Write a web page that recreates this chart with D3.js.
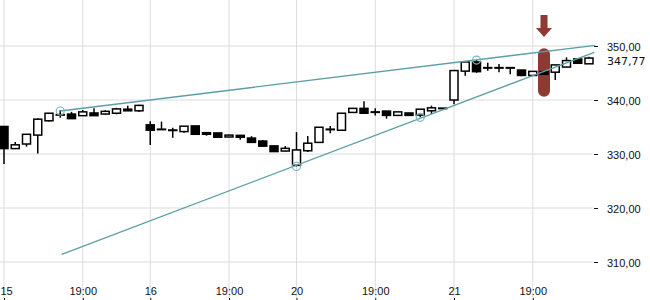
<!DOCTYPE html>
<html>
<head>
<meta charset="utf-8">
<script src="https://cdn.jsdelivr.net/npm/d3@7"></script>
<style>
  body { margin: 0; background: #fff; }
  svg { display: block; font-family: "DejaVu Sans", sans-serif; }
</style>
</head>
<body>
<svg id="chart" width="650" height="300"></svg>
<script>
// 30 min candles, 15th .. 21st
var opens  = [335.1, 331.0, 331.85, 333.5, 336.15, 337.3, 337.4, 337.1, 337.6, 337.4, 337.55, 338.3, 338.0,
              335.4, 334.6, 334.45, 334.15, 335.2, 333.95, 333.9, 333.15, 333.45, 332.95, 332.4, 331.5, 330.55,
              327.9, 330.6, 332.15, 334.6, 334.4, 337.7, 338.45, 337.8, 337.95, 337.15, 337.6, 337.2, 338.0, 338.5,
              340.0, 345.35, 347.05, 346.0, 346.0, 346.0, 345.55, 344.55, 345.25, 345.15, 346.1, 347.6, 346.7];
var highs  = [335.1, 332.2, 333.7, 336.6, 337.6, 338.1, 337.8, 338.15, 338.45, 338.1, 338.55, 338.95, 339.1,
              336.05, 336.0, 334.85, 335.15, 335.2, 334.05, 333.9, 333.55, 333.5, 333.3, 332.6, 331.5, 331.5,
              334.05, 333.35, 334.95, 335.2, 337.55, 338.45, 339.75, 338.45, 337.95, 337.8, 337.6, 338.3, 338.95, 338.5,
              345.45, 347.05, 347.4, 346.9, 346.65, 346.0, 345.55, 345.3, 345.25, 346.5, 347.9, 347.6, 348.0];
var lows   = [328.15, 331.0, 331.35, 330.1, 336.0, 336.7, 336.5, 337.1, 337.1, 337.3, 337.35, 338.0, 337.8,
              331.65, 334.55, 333.0, 333.95, 333.65, 333.4, 333.1, 333.15, 332.65, 332.15, 331.45, 330.45, 330.5,
              327.7, 330.35, 332.15, 333.85, 334.4, 337.7, 337.55, 337.15, 336.55, 337.15, 337.15, 336.8, 337.4, 338.4,
              339.2, 344.5, 345.05, 345.4, 345.15, 344.75, 344.4, 344.55, 344.75, 343.7, 346.1, 346.8, 346.7];
var closes = [331.0, 331.7, 333.65, 336.45, 337.55, 337.25, 336.55, 337.8, 337.1, 337.9, 338.35, 338.0, 339.0,
              334.4, 334.55, 334.35, 335.15, 333.65, 333.65, 333.1, 333.5, 333.1, 332.15, 331.45, 330.45, 331.05,
              330.75, 332.0, 334.95, 334.5, 337.55, 338.45, 337.55, 337.75, 337.15, 337.8, 337.15, 338.3, 338.55, 338.4,
              345.45, 347.05, 345.25, 345.95, 345.95, 345.95, 344.55, 345.3, 344.75, 346.5, 347.3, 346.8, 347.77];

var xTickIdx    = [0, 7, 13, 20, 26, 33, 40, 47];
var xTickLabels = ["15", "19:00", "16", "19:00", "20", "19:00", "21", "19:00"];
var yTicks      = [310, 320, 330, 340, 350];
var lastPrice   = 347.77;

// trend lines: [index, price] pairs
var trendUpper = [[5, 337.96], [52.56, 350.13]];
var trendLower = [[5.13, 311.43], [52.47, 348.83]];
// touch points on the trend lines
var touches = [[5, 337.96], [26, 327.7], [37, 336.8], [42, 347.4]];
var signalIdx = 48;
var signalRange = [340.6, 349.6];

var svg = d3.select("#chart");
var plotRight = 594, axisY = 298;

var x = d3.scaleLinear().domain([0, 52]).range([4, 589]);
var y = d3.scaleLinear().domain([310, 350]).range([262, 46]);

var loc = d3.formatLocale({decimal: ",", thousands: ".", grouping: [3], currency: ["", ""]});
var fmt = loc.format(".2f");

// grid
svg.append("g").selectAll("line").data(yTicks).join("line")
  .attr("x1", 0).attr("x2", plotRight - 1)
  .attr("y1", d => y(d)).attr("y2", d => y(d))
  .attr("stroke", "#dcdcdc").attr("stroke-width", 1);
svg.append("g").selectAll("line").data(xTickIdx).join("line")
  .attr("x1", d => x(d)).attr("x2", d => x(d))
  .attr("y1", 0).attr("y2", axisY)
  .attr("stroke", "#dcdcdc").attr("stroke-width", 1);

// axes
var yAxis = svg.append("g").attr("transform", `translate(${plotRight}, 0)`)
  .call(d3.axisRight(y).tickValues(yTicks).tickSize(4).tickPadding(9).tickFormat(fmt));
yAxis.select(".domain").remove();
yAxis.selectAll("text").style("font-size", "11px").style("fill", "#111").attr("dy", "0.4em");
yAxis.selectAll("line").attr("stroke", "#111");

var xAxis = svg.append("g").attr("transform", `translate(0, ${axisY})`)
  .call(d3.axisTop(x).tickValues(xTickIdx).tickSize(-4).tickPadding(3)
    .tickFormat((d, i) => xTickLabels[i]));
xAxis.select(".domain").remove();
xAxis.selectAll("text").style("font-size", "11px").style("fill", "#111");
xAxis.selectAll("line").attr("stroke", "#111");
// first label sits on the left edge, keep it inside
xAxis.selectAll("text").filter((d, i) => i === 0)
  .attr("text-anchor", "start").attr("x", -x(0));

svg.append("text").attr("x", plotRight + 13).attr("y", y(lastPrice) + 2.5).attr("dy", "0.4em")
  .style("font-size", "11px").style("fill", "#111").text(fmt(lastPrice));

// signal marker
var sx = x(signalIdx);
svg.append("rect").attr("x", sx - 6).attr("width", 12)
  .attr("y", y(signalRange[1])).attr("height", y(signalRange[0]) - y(signalRange[1]))
  .attr("rx", 6).attr("fill", "#8d3a33");
svg.append("path")
  .attr("d", `M${sx - 3.5},15 H${sx + 3.5} V28 H${sx + 8} L${sx},37 L${sx - 8},28 H${sx - 3.5} Z`)
  .attr("fill", "#8d3a33");

// candles
var candles = svg.append("g").selectAll("g").data(opens.map((o, i) => i)).join("g");
candles.append("line")
  .attr("x1", i => x(i)).attr("x2", i => x(i))
  .attr("y1", i => y(highs[i])).attr("y2", i => y(lows[i]))
  .attr("stroke", "#000").attr("stroke-width", 1.5);
candles.append("rect")
  .attr("x", i => x(i) - 4).attr("width", 8)
  .attr("y", i => y(Math.max(opens[i], closes[i])))
  .attr("height", i => Math.max(0.5, Math.abs(y(opens[i]) - y(closes[i]))))
  .attr("fill", i => closes[i] > opens[i] ? "#fff" : "#000")
  .attr("stroke", "#000").attr("stroke-width", 1.5);

// trend lines
[trendUpper, trendLower].forEach(function(t) {
  svg.append("line")
    .attr("x1", x(t[0][0])).attr("y1", y(t[0][1]))
    .attr("x2", x(t[1][0])).attr("y2", y(t[1][1]))
    .attr("stroke", "#5c9ea6").attr("stroke-width", 1.3);
});
svg.append("g").selectAll("circle").data(touches).join("circle")
  .attr("cx", d => x(d[0])).attr("cy", d => y(d[1])).attr("r", 4)
  .attr("fill", "none").attr("stroke", "#7fb6bb").attr("stroke-width", 1.2);
</script>
</body>
</html>
